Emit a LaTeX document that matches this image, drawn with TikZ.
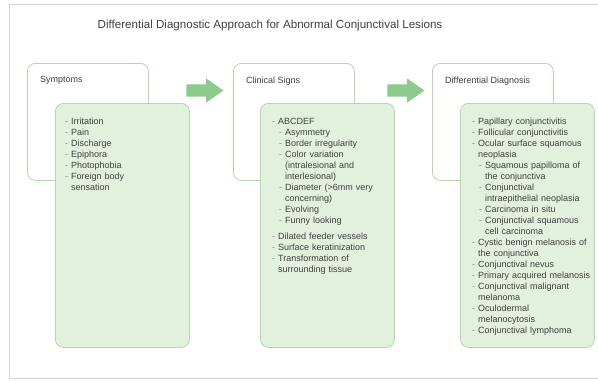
\documentclass[tikz,border=0pt]{standalone}
\usepackage{fontspec}
\setmainfont{Liberation Sans}
\usepackage{enumitem}
\usetikzlibrary{positioning,shapes.arrows}

\definecolor{boxline}{HTML}{B2D8AC}
\definecolor{boxfill}{HTML}{E2F1DE}
\definecolor{arrowgreen}{HTML}{8CCB8C}
\definecolor{textgray}{HTML}{3F3F3F}
\definecolor{dashgray}{HTML}{8A8A8A}
\definecolor{framegray}{HTML}{D4D4D4}

\newlist{signlist}{itemize}{2}
\setlist[signlist,1]{label=\textcolor{dashgray}{-}, leftmargin=6pt, labelsep=3pt, itemsep=0pt, parsep=0pt, topsep=0pt, partopsep=0pt}
\setlist[signlist,2]{label=\textcolor{dashgray}{-}, leftmargin=7pt, labelsep=3pt, itemsep=0pt, parsep=0pt, topsep=0pt, partopsep=0pt}

\begin{document}
\begin{tikzpicture}[x=1pt,y=-1pt,
  every node/.style={font=\fontsize{9}{11}\selectfont, text=textgray},
  backbox/.style={draw=boxline, line width=0.8pt, fill=white, rounded corners=8pt, minimum width=121pt, minimum height=117pt, inner sep=0pt, anchor=north west},
  frontbox/.style={draw=boxline, line width=0.8pt, fill=boxfill, rounded corners=8pt, minimum width=134pt, minimum height=244pt, inner sep=0pt},
  headlabel/.style={anchor=north west, inner sep=0pt},
  listtext/.style={anchor=north west, inner sep=0pt, text width=124pt, align=left},
  flowarrow/.style={single arrow, fill=arrowgreen, draw=none, inner sep=0pt, single arrow head extend=6pt, single arrow tip angle=70, minimum height=37pt}]

\useasboundingbox (0,0) rectangle (598,381);
\draw[framegray, line width=1pt] (598,4.5) -- (9,4.5) -- (9,378) -- (598,378);

\node[font=\fontsize{11.6}{14}\selectfont] (title) at (270,25) {Differential Diagnostic Approach for Abnormal Conjunctival Lesions};

% back boxes
\node[backbox] (symback) at (27,63) {};
\node[backbox] (signback) at (233,63) {};
\node[backbox] (diagback) at (432,63) {};

\node[headlabel] (symhead) at ([shift={(13,13.5)}]symback.north west) {Symptoms};
\node[headlabel] (signhead) at ([shift={(13,13.5)}]signback.north west) {Clinical Signs};
\node[headlabel] (diaghead) at ([shift={(13,13.5)}]diagback.north west) {Differential Diagnosis};

% arrows
\node[flowarrow] (arrowa) at (200.5,90.5) {\rule{0pt}{12pt}};
\node[flowarrow] (arrowb) at (401.5,90.5) {\rule{0pt}{12pt}};

% front boxes
\node[frontbox, below right=40pt and 28pt of symback.north west] (symfront) {};
\node[frontbox, below right=40pt and 27pt of signback.north west] (signfront) {};
\node[frontbox, below right=40pt and 28pt of diagback.north west] (diagfront) {};

\node[listtext] (symlist) at ([shift={(10,10.5)}]symfront.north west) {%
\begin{signlist}
\item Irritation
\item Pain
\item Discharge
\item Epiphora
\item Photophobia
\item Foreign body\\ sensation
\end{signlist}};

\node[listtext] (signlist) at ([shift={(12,10.5)}]signfront.north west) {%
\begin{signlist}
\item ABCDEF
  \begin{signlist}
  \item Asymmetry
  \item Border irregularity
  \item Color variation\\ (intralesional and\\ interlesional)
  \item Diameter (>6mm very\\ concerning)
  \item Evolving
  \item Funny looking
  \end{signlist}
\vspace{5pt}
\item Dilated feeder vessels
\item Surface keratinization
\item Transformation of\\ surrounding tissue
\end{signlist}};

\node[listtext] (diaglist) at ([shift={(12,10.5)}]diagfront.north west) {%
\begin{signlist}
\item Papillary conjunctivitis
\item Follicular conjunctivitis
\item Ocular surface squamous\\ neoplasia
  \begin{signlist}
  \item Squamous papilloma of\\ the conjunctiva
  \item Conjunctival\\ intraepithelial neoplasia
  \item Carcinoma in situ
  \item Conjunctival squamous\\ cell carcinoma
  \end{signlist}
\item Cystic benign melanosis of\\ the conjunctiva
\item Conjunctival nevus
\item Primary acquired melanosis
\item Conjunctival malignant\\ melanoma
\item Oculodermal\\ melanocytosis
\item Conjunctival lymphoma
\end{signlist}};
\end{tikzpicture}
\end{document}
